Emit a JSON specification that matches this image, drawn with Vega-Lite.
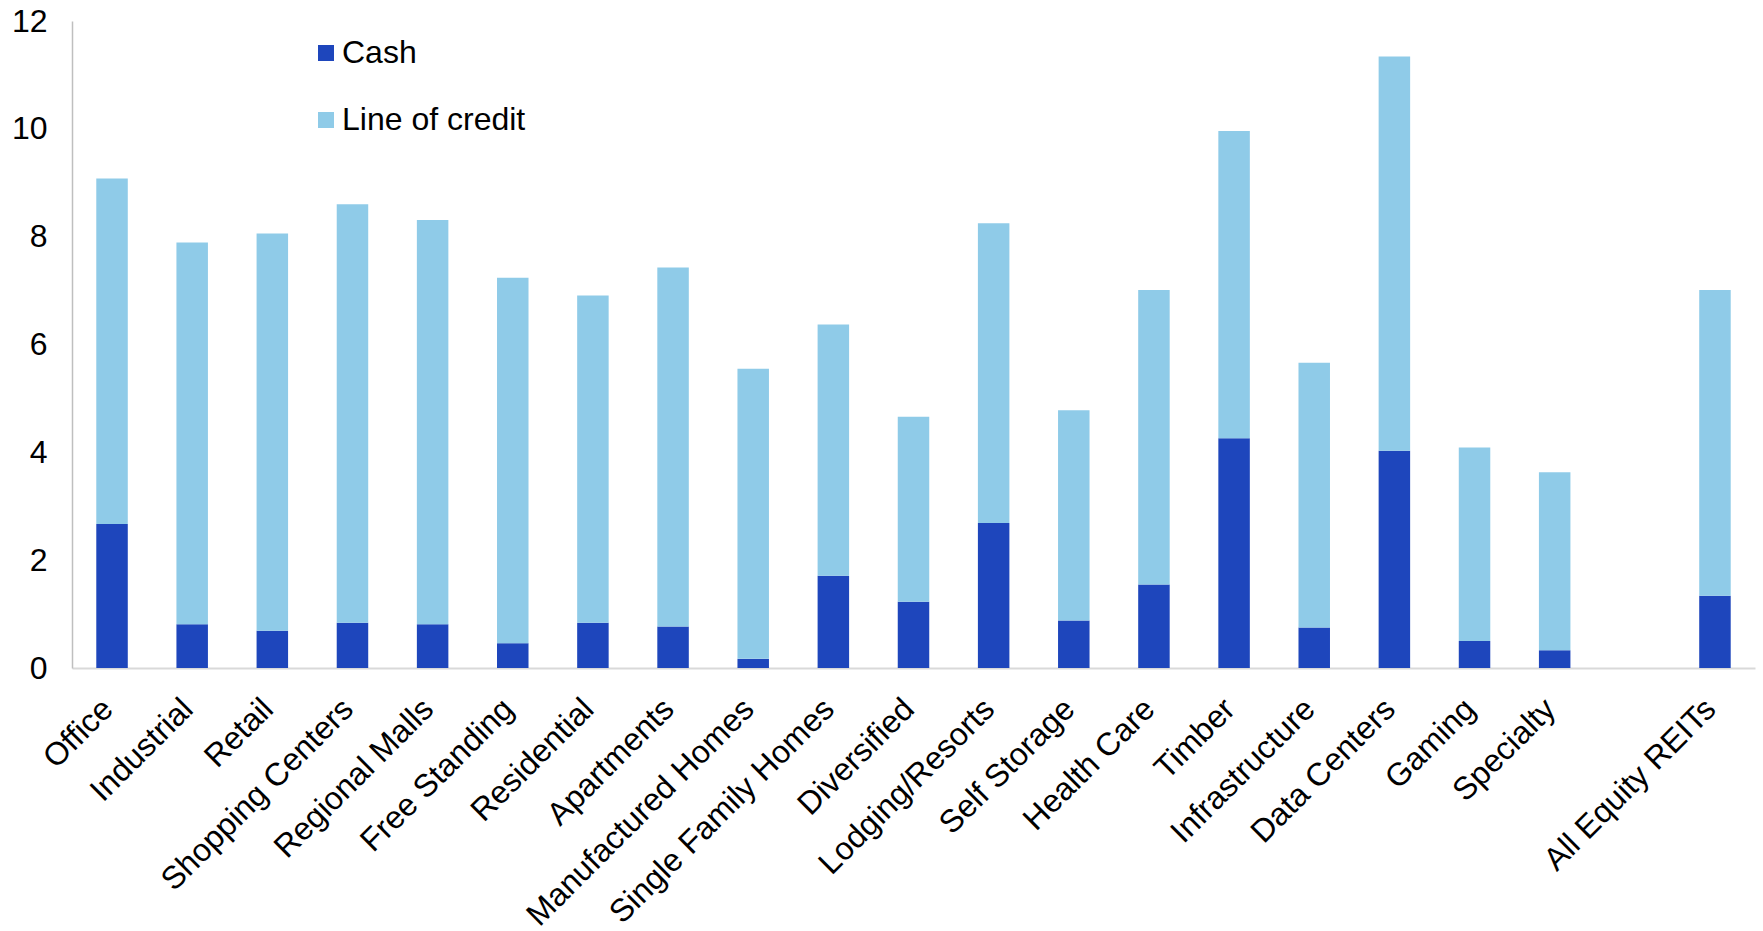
{
  "$schema": "https://vega.github.io/schema/vega-lite/v6.json",
  "autosize": {"type": "none"},
  "padding": {"left": 72, "top": 21, "right": 8, "bottom": 263},
  "width": 1683,
  "height": 647,
  "background": "white",
  "config": {
    "font": "Liberation Sans",
    "view": {"stroke": null}
  },
  "data": {
    "values": [
      {"category": "Office", "type": "Cash", "value": 2.67},
      {"category": "Office", "type": "Line of credit", "value": 6.41},
      {"category": "Industrial", "type": "Cash", "value": 0.81},
      {"category": "Industrial", "type": "Line of credit", "value": 7.08},
      {"category": "Retail", "type": "Cash", "value": 0.69},
      {"category": "Retail", "type": "Line of credit", "value": 7.37},
      {"category": "Shopping Centers", "type": "Cash", "value": 0.84},
      {"category": "Shopping Centers", "type": "Line of credit", "value": 7.76},
      {"category": "Regional Malls", "type": "Cash", "value": 0.81},
      {"category": "Regional Malls", "type": "Line of credit", "value": 7.5},
      {"category": "Free Standing", "type": "Cash", "value": 0.46},
      {"category": "Free Standing", "type": "Line of credit", "value": 6.78},
      {"category": "Residential", "type": "Cash", "value": 0.84},
      {"category": "Residential", "type": "Line of credit", "value": 6.07},
      {"category": "Apartments", "type": "Cash", "value": 0.77},
      {"category": "Apartments", "type": "Line of credit", "value": 6.66},
      {"category": "Manufactured Homes", "type": "Cash", "value": 0.17},
      {"category": "Manufactured Homes", "type": "Line of credit", "value": 5.38},
      {"category": "Single Family Homes", "type": "Cash", "value": 1.71},
      {"category": "Single Family Homes", "type": "Line of credit", "value": 4.66},
      {"category": "Diversified", "type": "Cash", "value": 1.23},
      {"category": "Diversified", "type": "Line of credit", "value": 3.43},
      {"category": "Lodging/Resorts", "type": "Cash", "value": 2.69},
      {"category": "Lodging/Resorts", "type": "Line of credit", "value": 5.56},
      {"category": "Self Storage", "type": "Cash", "value": 0.88},
      {"category": "Self Storage", "type": "Line of credit", "value": 3.9},
      {"category": "Health Care", "type": "Cash", "value": 1.55},
      {"category": "Health Care", "type": "Line of credit", "value": 5.46},
      {"category": "Timber", "type": "Cash", "value": 4.26},
      {"category": "Timber", "type": "Line of credit", "value": 5.7},
      {"category": "Infrastructure", "type": "Cash", "value": 0.75},
      {"category": "Infrastructure", "type": "Line of credit", "value": 4.91},
      {"category": "Data Centers", "type": "Cash", "value": 4.03},
      {"category": "Data Centers", "type": "Line of credit", "value": 7.31},
      {"category": "Gaming", "type": "Cash", "value": 0.5},
      {"category": "Gaming", "type": "Line of credit", "value": 3.59},
      {"category": "Specialty", "type": "Cash", "value": 0.33},
      {"category": "Specialty", "type": "Line of credit", "value": 3.3},
      {"category": "All Equity REITs", "type": "Cash", "value": 1.34},
      {"category": "All Equity REITs", "type": "Line of credit", "value": 5.67}
    ]
  },
  "mark": {"type": "bar"},
  "encoding": {
    "x": {
      "field": "category",
      "type": "nominal",
      "scale": {
        "domain": ["Office", "Industrial", "Retail", "Shopping Centers", "Regional Malls", "Free Standing", "Residential", "Apartments", "Manufactured Homes", "Single Family Homes", "Diversified", "Lodging/Resorts", "Self Storage", "Health Care", "Timber", "Infrastructure", "Data Centers", "Gaming", "Specialty", " ", "All Equity REITs"],
        "paddingInner": 0.607,
        "paddingOuter": 0.303
      },
      "axis": {
        "title": null,
        "labelAngle": -45,
        "labelFontSize": 32,
        "labelColor": "#000000",
        "labelLimit": 600,
        "labelPadding": 25,
        "labelOffset": -15,
        "ticks": false,
        "domainColor": "#D9D9D9",
        "domainWidth": 2,
        "grid": false
      }
    },
    "y": {
      "field": "value",
      "type": "quantitative",
      "stack": "zero",
      "scale": {"domain": [0, 12], "nice": false},
      "axis": {
        "title": null,
        "values": [0, 2, 4, 6, 8, 10, 12],
        "labelFontSize": 32,
        "labelColor": "#000000",
        "labelPadding": 25,
        "ticks": false,
        "grid": false,
        "domainColor": "#BFBFBF",
        "domainWidth": 1.5
      }
    },
    "color": {
      "field": "type",
      "type": "nominal",
      "scale": {"domain": ["Cash", "Line of credit"], "range": ["#1E46BC", "#8FCBE8"]},
      "legend": {
        "title": null,
        "orient": "none",
        "legendX": 238,
        "legendY": 16,
        "symbolType": "square",
        "symbolSize": 256,
        "symbolStrokeWidth": 0,
        "labelFontSize": 32,
        "labelColor": "#000000",
        "labelOffset": 0,
        "labelLimit": 500,
        "rowPadding": 35
      }
    },
    "order": {"field": "type", "sort": "ascending"}
  }
}
